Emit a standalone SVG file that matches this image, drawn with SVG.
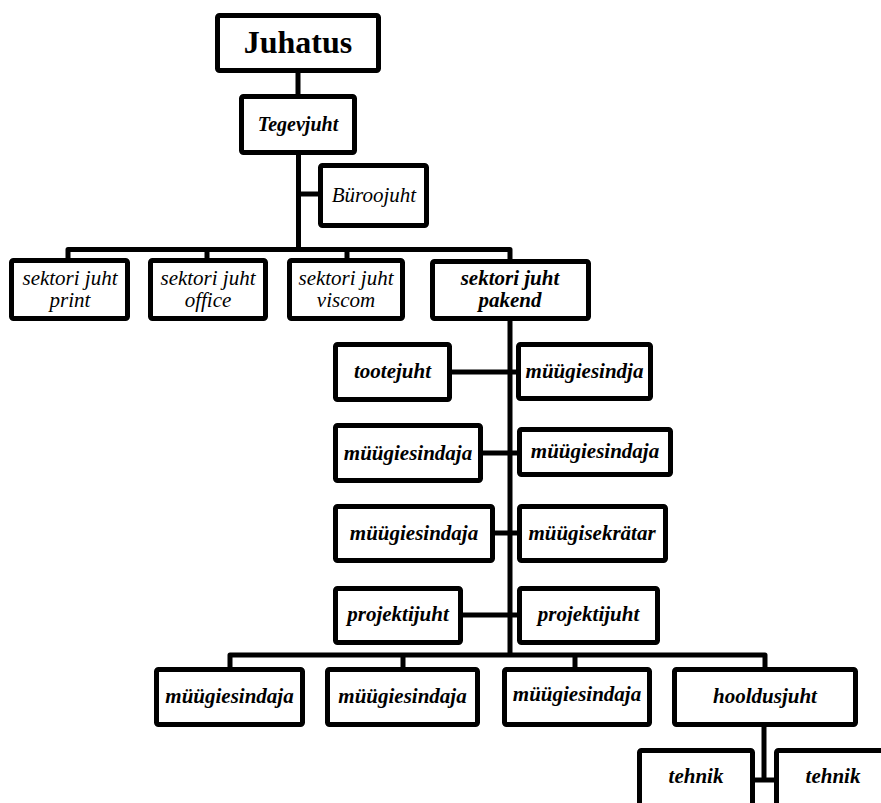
<svg xmlns="http://www.w3.org/2000/svg" width="881" height="803" viewBox="0 0 881 803">
<style>
.box{fill:#fff;stroke:#000;stroke-width:5;}
.ln{fill:none;stroke:#000;stroke-width:5;stroke-linejoin:round;}
text{font-family:"Liberation Serif","Times New Roman",serif;fill:#000;text-anchor:middle;}
.bi{font-weight:bold;font-style:italic;font-size:21px;}
.it{font-style:italic;font-size:21px;}
.big{font-weight:bold;font-size:32px;}
</style>
<rect width="881" height="803" fill="#fff"/>
<g id="connectors">
<line class="ln" x1="298" y1="72" x2="298" y2="96"/>
<line class="ln" x1="298.5" y1="153" x2="298.5" y2="250"/>
<line class="ln" x1="298.5" y1="194" x2="320" y2="194"/>
<polyline class="ln" points="68,260 68,249.5 510,249.5 510,261"/>
<line class="ln" x1="207" y1="249.5" x2="207" y2="260"/>
<line class="ln" x1="347" y1="249.5" x2="347" y2="260"/>
<line class="ln" x1="510" y1="319" x2="510" y2="655"/>
<line class="ln" x1="450" y1="372" x2="518" y2="372"/>
<line class="ln" x1="481" y1="453" x2="519" y2="453"/>
<line class="ln" x1="493" y1="533" x2="519" y2="533"/>
<line class="ln" x1="461" y1="615" x2="519" y2="615"/>
<polyline class="ln" points="230,669 230,655 765,655 765,669"/>
<line class="ln" x1="403" y1="655" x2="403" y2="669"/>
<line class="ln" x1="575" y1="655" x2="575" y2="669"/>
<line class="ln" x1="764" y1="725" x2="764" y2="780"/>
<line class="ln" x1="753" y1="780" x2="776" y2="780"/>
</g>
<g id="juhatus"><rect class="box" x="217.5" y="15.5" width="161" height="55" rx="2"/><text class="big" x="298" y="53">Juhatus</text></g>
<g id="tegevjuht"><rect class="box" x="241.5" y="96.5" width="113" height="56" rx="2"/><text class="bi" x="298" y="131" style="font-size:20px">Tegevjuht</text></g>
<g id="buroojuht"><rect class="box" x="320.5" y="165.5" width="106" height="60" rx="2"/><text class="it" x="374" y="202">Büroojuht</text></g>
<g id="print"><rect class="box" x="11.5" y="260.5" width="116" height="58" rx="2"/><text class="it" x="70" y="285">sektori juht</text><text class="it" x="70" y="307">print</text></g>
<g id="office"><rect class="box" x="150.5" y="260.5" width="115" height="58" rx="2"/><text class="it" x="208" y="285">sektori juht</text><text class="it" x="208" y="307">office</text></g>
<g id="viscom"><rect class="box" x="289.5" y="260.5" width="113" height="58" rx="2"/><text class="it" x="346" y="285">sektori juht</text><text class="it" x="346" y="307">viscom</text></g>
<g id="pakend"><rect class="box" x="432.5" y="261.5" width="156" height="57" rx="2"/><text class="bi" x="510" y="285">sektori juht</text><text class="bi" x="510" y="307">pakend</text></g>
<g id="tootejuht"><rect class="box" x="335.5" y="344.5" width="114" height="55" rx="2"/><text class="bi" x="392.5" y="378">tootejuht</text></g>
<g id="myygiesindja-r1"><rect class="box" x="518.5" y="344.5" width="132" height="54" rx="2"/><text class="bi" x="584.5" y="378">müügiesindja</text></g>
<g id="myygiesindaja-l2"><rect class="box" x="335.5" y="425.5" width="145" height="55" rx="2"/><text class="bi" x="408" y="460">müügiesindaja</text></g>
<g id="myygiesindaja-r2"><rect class="box" x="519.5" y="429.5" width="151" height="45" rx="2"/><text class="bi" x="595" y="458">müügiesindaja</text></g>
<g id="myygiesindaja-l3"><rect class="box" x="335.5" y="506.5" width="157" height="54" rx="2"/><text class="bi" x="414" y="540">müügiesindaja</text></g>
<g id="myygisekretar"><rect class="box" x="519.5" y="506.5" width="146" height="54" rx="2"/><text class="bi" x="592" y="540">müügisekrätar</text></g>
<g id="projektijuht-l"><rect class="box" x="335.5" y="588.5" width="125" height="54" rx="2"/><text class="bi" x="398" y="621">projektijuht</text></g>
<g id="projektijuht-r"><rect class="box" x="519.5" y="588.5" width="138" height="54" rx="2"/><text class="bi" x="588.5" y="621">projektijuht</text></g>
<g id="myygiesindaja-b1"><rect class="box" x="156.5" y="669.5" width="146" height="55" rx="2"/><text class="bi" x="229.5" y="703">müügiesindaja</text></g>
<g id="myygiesindaja-b2"><rect class="box" x="327.5" y="669.5" width="150" height="55" rx="2"/><text class="bi" x="402.5" y="703">müügiesindaja</text></g>
<g id="myygiesindaja-b3"><rect class="box" x="504.5" y="669.5" width="145" height="55" rx="2"/><text class="bi" x="577" y="701">müügiesindaja</text></g>
<g id="hooldusjuht"><rect class="box" x="674.5" y="669.5" width="181" height="55" rx="2"/><text class="bi" x="765" y="703">hooldusjuht</text></g>
<g id="tehnik-l"><rect class="box" x="639.5" y="750.5" width="113" height="70" rx="2"/><text class="bi" x="696" y="783">tehnik</text></g>
<g id="tehnik-r"><rect class="box" x="776.5" y="750.5" width="115" height="70" rx="2"/><text class="bi" x="833" y="783">tehnik</text></g>
</svg>
